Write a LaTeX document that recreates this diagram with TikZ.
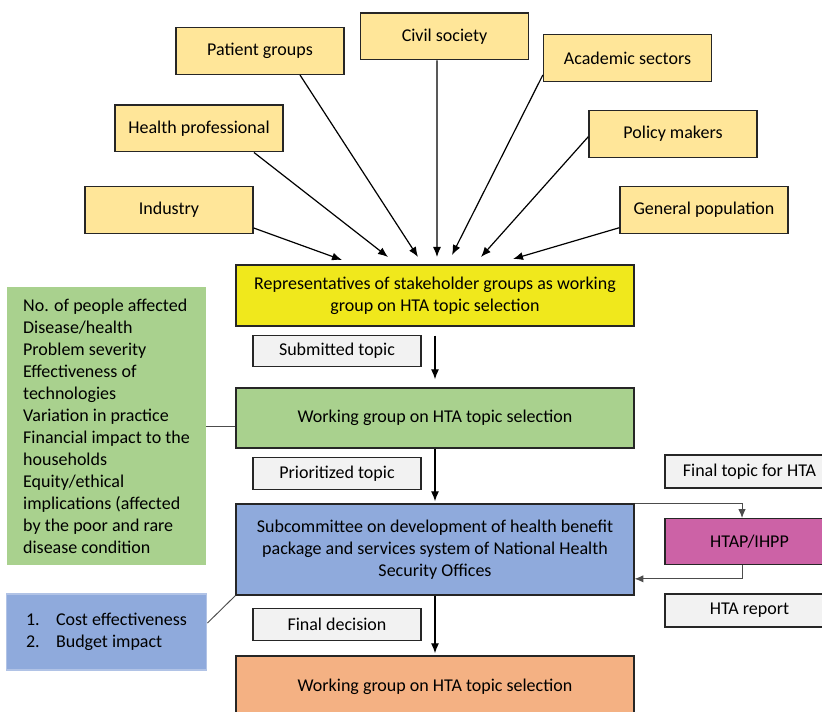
\documentclass[tikz,border=0pt]{standalone}
\usepackage{fontspec}
\setmainfont{Carlito}
\usetikzlibrary{arrows.meta,calc}
\definecolor{stakeFill}{HTML}{FFE699}
\definecolor{repFill}{HTML}{F0E81C}
\definecolor{labelFill}{HTML}{F2F2F2}
\definecolor{greenFill}{HTML}{A9D18E}
\definecolor{blueFill}{HTML}{8FAADC}
\definecolor{htapFill}{HTML}{CC62A6}
\definecolor{orangeFill}{HTML}{F4B183}
\definecolor{edgeGray}{HTML}{262626}

\begin{document}
\begin{tikzpicture}[x=0.75pt, y=-0.75pt, >={Latex[length=7.5pt,width=6pt]},
    every node/.style={font=\fontsize{13.5}{16.5}\selectfont, inner sep=0pt},
    stakebox/.style={draw=edgeGray, line width=1pt, fill=stakeFill,
        minimum width=126pt, minimum height=35pt},
    mainbox/.style={draw=edgeGray, line width=1pt, minimum width=298.5pt,
        minimum height=45.75pt, align=center},
    labelbox/.style={draw=edgeGray, line width=0.9pt, fill=labelFill,
        minimum width=126pt, minimum height=23.5pt},
    sidebox/.style={draw=edgeGray, line width=0.9pt, minimum width=126.75pt},
    critbox/.style={minimum width=149.25pt, align=left, inner xsep=11pt},
    arr/.style={->, line width=0.9pt},
    link/.style={line width=0.7pt, draw=black!70,
        >={Latex[length=6.5pt,width=5.5pt]}}]

    \useasboundingbox (0,0) rectangle (822,712);
    \clip (0,0) rectangle (822,712);

    % ---------- stakeholder groups ----------
    \node[stakebox] (ind) at (169,210)   {Industry};
    \node[stakebox] (hp)  at (199,128.5) {Health professional};
    \node[stakebox] (pg)  at (260,51)    {Patient groups};
    \node[stakebox] (cs)  at (444.5,36.5) {Civil society};
    \node[stakebox] (as)  at (627.5,58)  {Academic sectors};
    \node[stakebox] (pm)  at (673,134)   {Policy makers};
    \node[stakebox] (gp)  at (704,210)   {General population};

    \coordinate (t1) at (342,260);
    \coordinate (t2) at (388,257);
    \coordinate (t3) at (418,257);
    \coordinate (t4) at (437,257);
    \coordinate (t5) at (452,255);
    \coordinate (t6) at (481,257);
    \coordinate (t7) at (513,259);

    \draw[arr] ([yshift=-13.5pt]ind.east) -- (t1);
    \draw[arr] ([xshift=41.25pt]hp.south) -- (t2);
    \draw[arr] ([xshift=30pt]pg.south) -- (t3);
    \draw[arr] ([xshift=-5.6pt]cs.south) -- (t4);
    \draw[arr] ([yshift=-12.75pt]as.west) -- (t5);
    \draw[arr] ([yshift=-2pt]pm.west) -- (t6);
    \draw[arr] ([yshift=-13.3pt]gp.west) -- (t7);

    % ---------- main flow ----------
    \node[mainbox, fill=repFill] (rep) at (435,295.5)
        {Representatives of stakeholder groups as working\\group on HTA topic selection};
    \node[mainbox, fill=greenFill, minimum height=45pt] (wg) at (435,418)
        {Working group on HTA topic selection};
    \node[mainbox, fill=blueFill, minimum height=68.25pt] (sub) at (435,549.5)
        {Subcommittee on development of health benefit\\package and services system of National Health\\Security Offices};
    \node[mainbox, fill=orangeFill, minimum height=46.5pt] (sel) at (435,687)
        {Working group on HTA topic selection};

    \node[labelbox] (subm) at (337,351)   {Submitted topic};
    \node[labelbox] (prio) at (337,473.5) {Prioritized topic};
    \node[labelbox] (fdec) at (337,624.5) {Final decision};

    \draw[arr, shorten <=6.75pt, shorten >=6pt] (rep) -- (wg);
    \draw[arr, shorten >=1.5pt] (wg) -- (sub);
    \draw[arr, shorten >=1.5pt] (sub) -- (sel);

    % ---------- HTA assessment ----------
    \node[sidebox, fill=labelFill, minimum height=24.75pt] (ftop) at (749.5,471.5) {Final topic for HTA};
    \node[sidebox, fill=htapFill, minimum height=34.5pt] (htap) at (749.5,541.5) {HTAP/IHPP};
    \node[sidebox, fill=labelFill, minimum height=24.75pt] (rept) at (749.5,610.5) {HTA report};

    \draw[link, ->] (sub.north east) -| ([xshift=-5.6pt]htap.north);
    \draw[link, ->] ([xshift=-5.6pt]htap.south) |- ([yshift=-22pt]sub.east);

    % ---------- criteria ----------
    \node[critbox, fill=greenFill, minimum height=208.5pt] (crit) at (106.5,426)
        {No. of people affected\\Disease/health\\Problem severity\\Effectiveness of\\technologies\\Variation in practice\\Financial impact to the\\households\\Equity/ethical\\implications (affected\\by the poor and rare\\disease condition};
    \node[critbox, fill=blueFill, draw=blueFill!70!white, line width=0.8pt,
        minimum height=57pt, inner xsep=15pt] (cost) at (106.5,632)
        {\makebox[22.5pt][l]{1.}Cost effectiveness\\\makebox[22.5pt][l]{2.}Budget impact};

    \draw[link] (crit.east) -- (crit.east -| wg.west);
    \draw[link] ([yshift=6.75pt]cost.east) -- (sub.south west);
\end{tikzpicture}
\end{document}
